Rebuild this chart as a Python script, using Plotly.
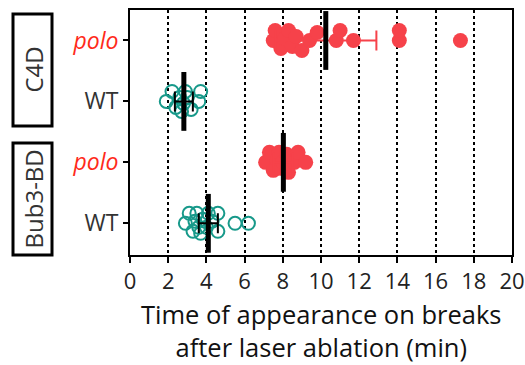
import plotly.graph_objects as go

# ---------------- data ----------------
groups = ["WT", "polo", "WT", "polo"]          # bottom -> top rows
constructs = ["Bub3-BD", "C4D"]
wt_bub3 = [2.9, 3.1, 3.3, 3.4, 3.5, 3.6, 3.7, 3.8, 4.0, 4.1, 4.3, 4.6, 4.6, 5.5, 6.2]
polo_bub3 = [7.1, 7.3, 7.5, 7.7, 7.8, 7.9, 8.0, 8.2, 8.3, 8.6, 8.8, 9.2]
wt_c4d = [1.9, 2.2, 2.4, 2.6, 2.7, 2.8, 2.9, 3.0, 3.2, 3.6, 3.7]
polo_c4d = [7.5, 7.6, 7.9, 8.1, 8.3, 8.5, 8.7, 9.0, 9.4, 9.8, 10.8, 11.0, 11.7, 14.1, 14.1, 17.3]
means = [4.1, 8.03, 2.82, 10.25]
sds = [0.5, 0.5, 0.47, 2.65]
x_ticks = list(range(0, 21, 2))
title_lines = ["Time of appearance on breaks", "after laser ablation (min)"]

series = [wt_bub3, polo_bub3, wt_c4d, polo_c4d]
RED = "#F6424A"
TEAL = "#17998A"
LABEL_RED = "#FF2A1A"

PX_X = 19.1   # px per x unit (for swarm layout)
PX_Y = 61.0   # px per row
PLOT_H = 245.0
PLOT_W = 382.0


def swarm(vals, dmin=10.5, step=2.0, maxoff=11):
    placed = []
    offs = []
    for v in vals:
        xp = v * PX_X
        cands = [0]
        k = 1
        while k * step <= maxoff:
            cands += [k * step, -k * step]
            k += 1
        best, bestd = 0, -1
        chosen = None
        for c in cands:
            d = min([((xp - px) ** 2 + (c - py) ** 2) ** 0.5 for px, py in placed] or [1e9])
            if d >= dmin:
                chosen = c
                break
            if d > bestd:
                best, bestd = c, d
        if chosen is None:
            chosen = best
        placed.append((xp, chosen))
        offs.append(chosen / PX_Y)
    return offs


fig = go.Figure()
for i, vals in enumerate(series):
    offs = swarm(sorted(vals))
    ys = [i + o for o in offs]
    is_polo = groups[i] == "polo"
    fig.add_trace(go.Scatter(
        x=sorted(vals), y=ys, mode="markers",
        marker=dict(size=15 if is_polo else 13,
                    color=RED if is_polo else "rgba(0,0,0,0)",
                    line=dict(width=0 if is_polo else 2, color=TEAL)),
        showlegend=False, hoverinfo="x"))

for i in range(4):
    is_polo = groups[i] == "polo"
    fig.add_trace(go.Scatter(
        x=[means[i]], y=[i], mode="markers",
        marker=dict(size=1, color="rgba(0,0,0,0)"),
        error_x=dict(type="data", array=[sds[i]], color=RED if is_polo else "black",
                     thickness=2, width=10),
        showlegend=False, hoverinfo="skip"))
    fig.add_trace(go.Scatter(
        x=[means[i]], y=[i], mode="markers",
        marker=dict(symbol="line-ns", size=42, line=dict(width=5, color="black")),
        showlegend=False, hoverinfo="skip"))

ticktext = []
for g in groups:
    if g == "polo":
        ticktext.append(f"<span style='color:{LABEL_RED}'><i>polo</i></span>")
    else:
        ticktext.append("WT")

FONT = "Open Sans"
fig.update_layout(
    width=525, height=365,
    margin=dict(l=130, r=13, t=10, b=110),
    plot_bgcolor="white", paper_bgcolor="white",
    font=dict(family=FONT, size=20, color="#222"),
    xaxis=dict(range=[0, 20], tickvals=x_ticks, ticktext=[str(t) for t in x_ticks],
               showgrid=True, gridcolor="black", gridwidth=2, griddash="dot",
               showline=True, linecolor="black", linewidth=2, mirror=True,
               ticks="outside", ticklen=6, tickwidth=2, tickcolor="black",
               zeroline=False, tickfont=dict(size=22, color="#222"), automargin=False),
    yaxis=dict(range=[-0.52, 3.5], tickvals=[0, 1, 2, 3], ticktext=ticktext,
               showgrid=False, zeroline=False, automargin=False,
               showline=True, linecolor="black", linewidth=2, mirror=True,
               ticks="outside", ticklen=5, tickwidth=2, tickcolor="black",
               tickfont=dict(size=23, color="#333")),
)

# x-axis title (two lines in one text)
fig.add_annotation(xref="paper", yref="paper", x=0.5, y=-(330 - 255) / PLOT_H,
                   xanchor="center", yanchor="middle", showarrow=False,
                   text="<br>".join(title_lines), font=dict(size=25.5, color="#111"))

# construct boxes on the left (pixel extents -> paper coords)
box_rows = [(143, 255, constructs[0]), (14, 126, constructs[1])]
for top, bot, label in box_rows:
    y0 = (255 - bot) / PLOT_H
    y1 = (255 - top) / PLOT_H
    fig.add_shape(type="rect", xref="paper", yref="paper",
                  x0=-117 / PLOT_W, x1=-78 / PLOT_W, y0=y0, y1=y1,
                  line=dict(color="black", width=3))
    fig.add_annotation(xref="paper", yref="paper", x=-97.5 / PLOT_W, y=(y0 + y1) / 2,
                       xanchor="center", yanchor="middle",
                       text=label, textangle=-90, showarrow=False,
                       font=dict(size=24, color="#333"))

fig.write_html("out.html", config={"displayModeBar": False},
               post_script="document.body.style.margin='0';document.body.style.overflow='hidden';")
